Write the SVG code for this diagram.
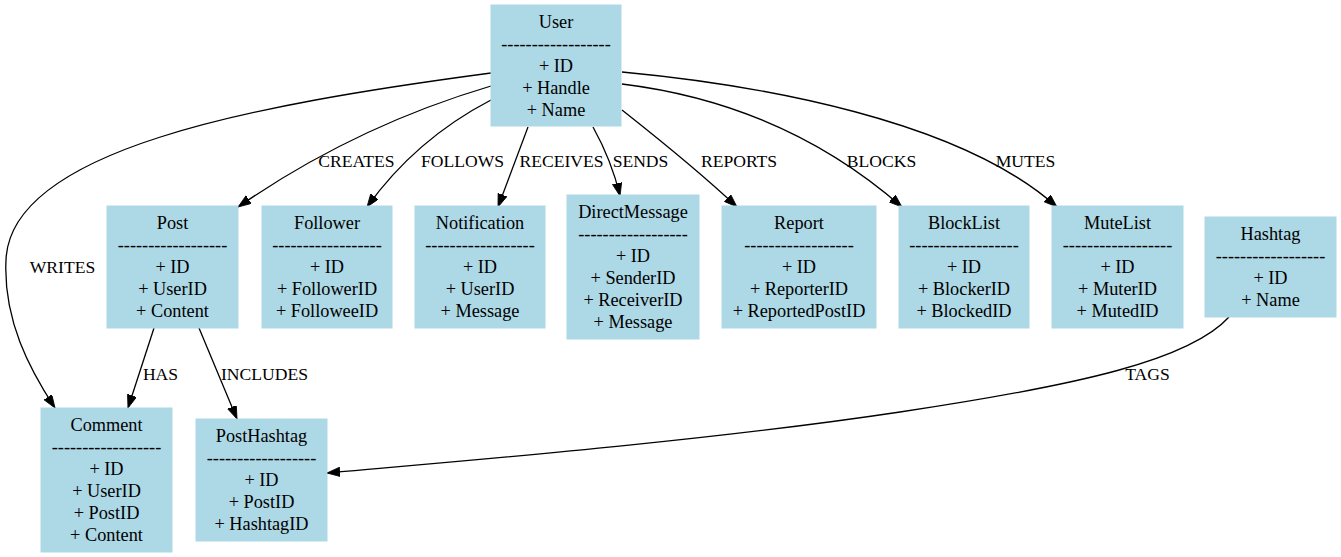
<svg xmlns="http://www.w3.org/2000/svg" width="1341" height="557" viewBox="0 0 1341 557">
<style>
.box{fill:#add8e6;stroke:#add8e6;stroke-width:1}
.t{font-family:"Liberation Serif","Times New Roman",serif;font-size:18.3px;fill:#000;text-anchor:middle}
.l{font-family:"Liberation Serif","Times New Roman",serif;font-size:17.6px;fill:#000;text-anchor:middle}
.e{fill:none;stroke:#000;stroke-width:1.3;marker-end:url(#arr)}
</style>
<defs>
<marker id="arr" markerUnits="userSpaceOnUse" markerWidth="14" markerHeight="10" refX="13" refY="4.7" orient="auto">
<path d="M0,0 L13,4.7 L0,9.4 z" fill="#000" stroke="#000" stroke-width="0.8"/>
</marker>
</defs>
<rect width="1341" height="557" fill="#fff"/>
<g id="connectors">
<path class="e" d="M491,73 C250,105 10,150 6,260 C3,320 30,370 55,408"/>
<path class="e" d="M491,86 C400,113 316,153 238,207"/>
<path class="e" d="M491,100 C441,126 400,161 367,207"/>
<path class="e" d="M528,127 L498,207"/>
<path class="e" d="M593,127 C603,145 614,170 620,196"/>
<path class="e" d="M622,110 C660,140 700,172 737,207"/>
<path class="e" d="M622,84 C728,97 822,137 902,207"/>
<path class="e" d="M622,72 C760,85 960,120 1057,207"/>
<path class="e" d="M154,328 L128,408"/>
<path class="e" d="M199,328 L237,419"/>
<path class="e" d="M1229,317 C1190,360 1080,385 900,412 C700,442 450,462 327,473"/>
<text class="l" x="62.5" y="273">WRITES</text>
<text class="l" x="356.5" y="167">CREATES</text>
<text class="l" x="462.5" y="167">FOLLOWS</text>
<text class="l" x="561.5" y="167">RECEIVES</text>
<text class="l" x="640.5" y="167">SENDS</text>
<text class="l" x="739" y="167">REPORTS</text>
<text class="l" x="881.5" y="167">BLOCKS</text>
<text class="l" x="1025.5" y="167">MUTES</text>
<text class="l" x="160.5" y="380">HAS</text>
<text class="l" x="264.5" y="380">INCLUDES</text>
<text class="l" x="1147.5" y="380">TAGS</text>
</g>
<g id="User">
<rect class="box" x="491" y="5" width="130" height="121"/>
<text class="t" x="556" y="28">User</text>
<text class="t" x="556" y="50">------------------</text>
<text class="t" x="556" y="72">+ ID</text>
<text class="t" x="556" y="94">+ Handle</text>
<text class="t" x="556" y="116">+ Name</text>
</g>
<g id="Post">
<rect class="box" x="107" y="206" width="131" height="122"/>
<text class="t" x="172.5" y="229">Post</text>
<text class="t" x="172.5" y="251">------------------</text>
<text class="t" x="172.5" y="273">+ ID</text>
<text class="t" x="172.5" y="295">+ UserID</text>
<text class="t" x="172.5" y="317">+ Content</text>
</g>
<g id="Follower">
<rect class="box" x="262" y="206" width="130" height="122"/>
<text class="t" x="327" y="229">Follower</text>
<text class="t" x="327" y="251">------------------</text>
<text class="t" x="327" y="273">+ ID</text>
<text class="t" x="327" y="295">+ FollowerID</text>
<text class="t" x="327" y="317">+ FolloweeID</text>
</g>
<g id="Notification">
<rect class="box" x="415" y="206" width="130" height="122"/>
<text class="t" x="480" y="229">Notification</text>
<text class="t" x="480" y="251">------------------</text>
<text class="t" x="480" y="273">+ ID</text>
<text class="t" x="480" y="295">+ UserID</text>
<text class="t" x="480" y="317">+ Message</text>
</g>
<g id="DirectMessage">
<rect class="box" x="567" y="195" width="132" height="144"/>
<text class="t" x="633" y="218">DirectMessage</text>
<text class="t" x="633" y="240">------------------</text>
<text class="t" x="633" y="262">+ ID</text>
<text class="t" x="633" y="284">+ SenderID</text>
<text class="t" x="633" y="306">+ ReceiverID</text>
<text class="t" x="633" y="328">+ Message</text>
</g>
<g id="Report">
<rect class="box" x="722" y="206" width="154" height="122"/>
<text class="t" x="799" y="229">Report</text>
<text class="t" x="799" y="251">------------------</text>
<text class="t" x="799" y="273">+ ID</text>
<text class="t" x="799" y="295">+ ReporterID</text>
<text class="t" x="799" y="317">+ ReportedPostID</text>
</g>
<g id="BlockList">
<rect class="box" x="899" y="206" width="130" height="122"/>
<text class="t" x="964" y="229">BlockList</text>
<text class="t" x="964" y="251">------------------</text>
<text class="t" x="964" y="273">+ ID</text>
<text class="t" x="964" y="295">+ BlockerID</text>
<text class="t" x="964" y="317">+ BlockedID</text>
</g>
<g id="MuteList">
<rect class="box" x="1052" y="206" width="131" height="122"/>
<text class="t" x="1117.5" y="229">MuteList</text>
<text class="t" x="1117.5" y="251">------------------</text>
<text class="t" x="1117.5" y="273">+ ID</text>
<text class="t" x="1117.5" y="295">+ MuterID</text>
<text class="t" x="1117.5" y="317">+ MutedID</text>
</g>
<g id="Hashtag">
<rect class="box" x="1205" y="217" width="131" height="100"/>
<text class="t" x="1270.5" y="240">Hashtag</text>
<text class="t" x="1270.5" y="262">------------------</text>
<text class="t" x="1270.5" y="284">+ ID</text>
<text class="t" x="1270.5" y="306">+ Name</text>
</g>
<g id="Comment">
<rect class="box" x="41" y="408" width="131" height="144"/>
<text class="t" x="106.5" y="431">Comment</text>
<text class="t" x="106.5" y="453">------------------</text>
<text class="t" x="106.5" y="475">+ ID</text>
<text class="t" x="106.5" y="497">+ UserID</text>
<text class="t" x="106.5" y="519">+ PostID</text>
<text class="t" x="106.5" y="541">+ Content</text>
</g>
<g id="PostHashtag">
<rect class="box" x="196" y="419" width="131" height="122"/>
<text class="t" x="261.5" y="442">PostHashtag</text>
<text class="t" x="261.5" y="464">------------------</text>
<text class="t" x="261.5" y="486">+ ID</text>
<text class="t" x="261.5" y="508">+ PostID</text>
<text class="t" x="261.5" y="530">+ HashtagID</text>
</g>
</svg>
